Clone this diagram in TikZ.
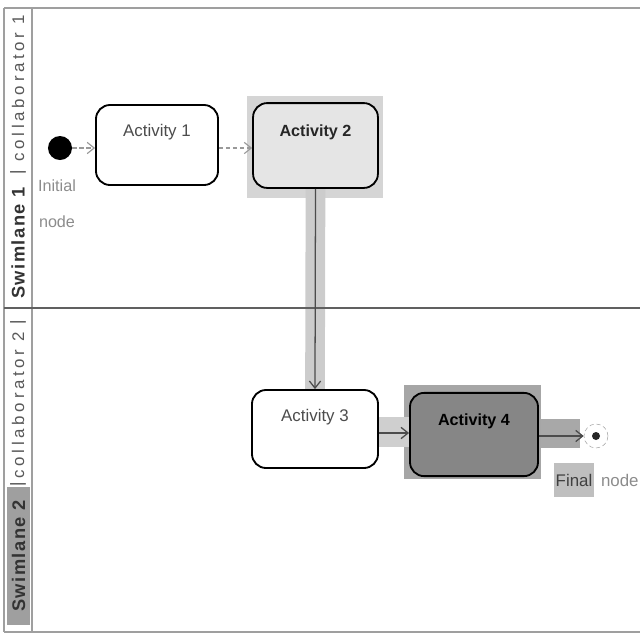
\documentclass[tikz,border=0pt]{standalone}
\usepackage{fontspec}
\setmainfont{Liberation Sans}
\newfontfamily\lanefont[LetterSpace=8]{Liberation Sans}
\newfontfamily\collabfont[LetterSpace=22]{Liberation Sans}
\usetikzlibrary{arrows.meta, positioning, calc, backgrounds}
\tikzset{>={Straight Barb[length=5pt, width=8pt]}}
\tikzset{
  laneline/.style={draw=gray!75, line width=1.4pt},
  lanesep/.style={draw=gray!75!black, line width=1.6pt},
  lanename/.style={font=\lanefont\fontsize{13}{15}\selectfont\bfseries, text=black!80, inner sep=1pt},
  collab/.style={font=\collabfont\fontsize{12}{14}\selectfont, text=black!65, inner sep=1pt},
  lanebar/.style={font=\fontsize{12}{14}\selectfont, text=black!70, inner sep=0pt},
  activity/.style={draw=black, line width=1.3pt, rounded corners=10pt, inner sep=0pt},
  acttext/.style={font=\fontsize{12}{14}\selectfont, text=black!70},
  notetext/.style={font=\fontsize{11.5}{14}\selectfont, text=black!45},
  hilite/.style={draw=none},
  flow/.style={->, draw=black!70, line width=0.9pt},
  ghostflow/.style={->, draw=black!40, line width=0.8pt, densely dashed},
  flowband/.style={draw=gray!40, line width=14pt},
}

\begin{document}
\begin{tikzpicture}[x=0.025cm, y=-0.025cm]
  \useasboundingbox (0,0) rectangle (640,640);

  %swimlane frame
  \draw[laneline] (4,8) -- (640,8);
  \draw[laneline] (4,632) -- (640,632);
  \draw[laneline] (4,8) -- (4,632);
  \draw[laneline] (32,8) -- (32,632);
  \draw[lanesep] (4,308) -- (640,308);

  %lane 1 label
  \node[lanename, rotate=90] (sw1) at (18,243) {Swimlane 1};
  \node[lanebar, rotate=90] (bar1) at (18,172) {|};
  \node[collab, rotate=90] (co1) at (18,88) {collaborator 1};

  %lane 2 label
  \node[lanename, rotate=90, fill=gray!75, minimum width=3.45cm, minimum height=0.55cm]
        (sw2) at (18.5,556) {Swimlane 2};
  \node[lanebar, rotate=90] (bar2) at (18,484) {|};
  \node[collab, rotate=90] (co2) at (18,405) {collaborator 2};
  \node[lanebar, rotate=90] (bar3) at (18,322) {|};

  %initial node
  \node[circle, fill=black, minimum size=0.6cm, inner sep=0pt] (init) at (60,148) {};
  \node[notetext] (initlbl) at (57,186) {Initial};
  \node[notetext] (initlbl2) at (57,222) {node};

  %activity 1
  \node[activity, fill=white, minimum width=3.05cm, minimum height=2cm] (a1) at (157,145) {};
  \node[acttext] (a1txt) at ($(a1.north)+(0,28)$) {Activity 1};

  %activity 2
  \node[activity, fill=gray!20, minimum width=3.12cm, minimum height=2.12cm] (a2) at (315.5,145.5) {};
  \node[acttext, font=\fontsize{11.5}{14}\selectfont\bfseries, text=black!85] (a2txt)
        at ($(a2.north)+(0,30)$) {Activity 2};

  %activity 3
  \node[activity, fill=white, minimum width=3.15cm, minimum height=1.95cm] (a3) at (315,429) {};
  \node[acttext] (a3txt) at ($(a3.north)+(0,28)$) {Activity 3};

  %activity 4
  \node[activity, fill=gray!95, minimum width=3.2cm, minimum height=2.08cm] (a4) at (474,434.5) {};
  \node[acttext, font=\fontsize{11.5}{14}\selectfont\bfseries, text=black] (a4txt)
        at ($(a4.north)+(0,29)$) {Activity 4};

  %final node
  \node[circle, draw=black!35, densely dashed, fill=white, minimum size=0.6cm, inner sep=0pt] (fin) at (596,436) {};
  \node[circle, fill=black!85, minimum size=0.2cm, inner sep=0pt] (findot) at (fin) {};
  \node[font=\fontsize{12}{14}\selectfont, text=black!75, fill=gray!50, minimum height=0.85cm,
        inner xsep=1.5pt] (finlbl) at (574,480) {Final};
  \node[notetext, font=\fontsize{12}{14}\selectfont, right=1pt of finlbl] (finlbl2) {node};

  %highlights and bands
  \begin{scope}[on background layer]
    \fill[gray!33] ($(a2.south west)+(-5,9)$) rectangle ($(a2.north east)+(4,-6)$);
    \fill[gray!70] ($(a4.south west)+(-5,2)$) rectangle ($(a4.north east)+(2,-7)$);
    \draw[flowband] (a2.south) -- (a3.north);
    \draw[flowband, line width=22pt, draw=gray!38] (a3.east |- 0,432) -- (a4.west |- 0,432);
  \end{scope}
  \fill[gray!68] ($(a4.east)+(2,-16)$) rectangle ($(fin.west)+(-4,12)$);

  %flows
  \draw[ghostflow] (init) -- (a1.west |- init);
  \draw[ghostflow] (a1.east |- init) -- (a2.west |- init);
  \draw[flow] (a2.south) -- (a3.north);
  \draw[flow] (a3.east |- 0,433) -- (a4.west |- 0,433);
  \draw[flow] (a4.east |- fin) -- (fin.west);
\end{tikzpicture}
\end{document}
